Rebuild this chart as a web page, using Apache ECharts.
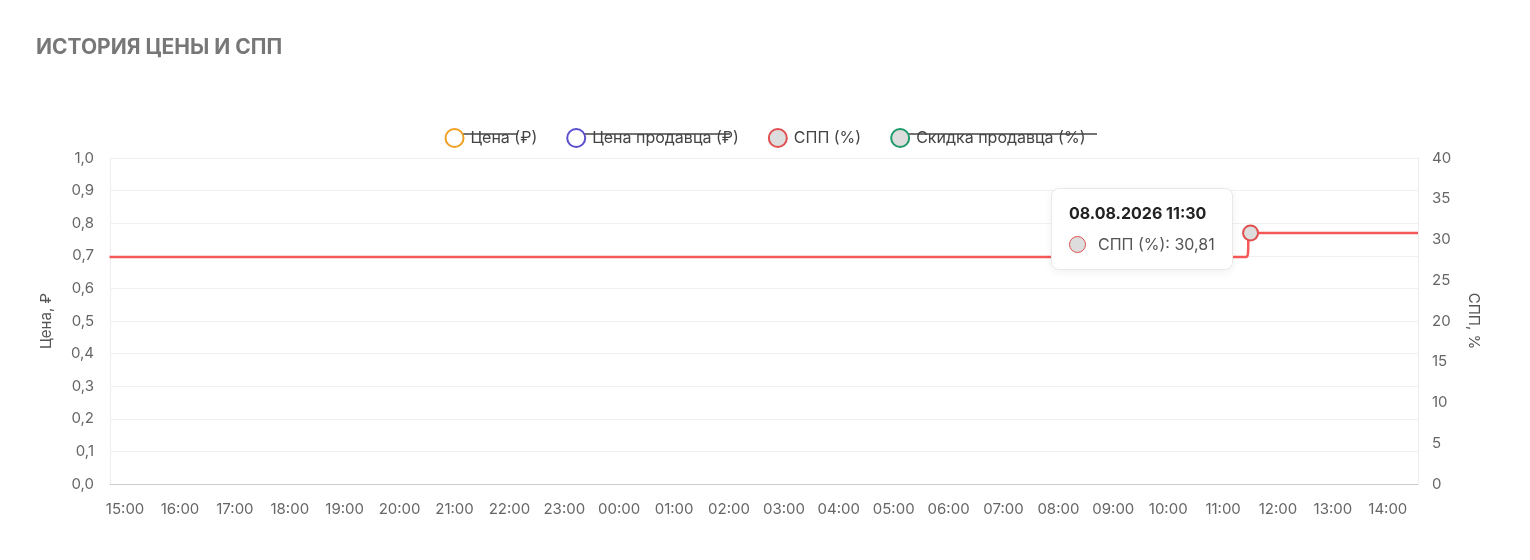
<!DOCTYPE html>
<html><head><meta charset="utf-8">
<script src="https://cdn.jsdelivr.net/npm/echarts@6/dist/echarts.min.js"></script>
<style>html,body{margin:0;padding:0;background:#fff}#c{width:1530px;height:560px}</style>
</head><body><div id="c"></div>
<script>
const titleText = 'ИСТОРИЯ ЦЕНЫ И СПП';
const seriesNames = ['Цена (₽)', 'Цена продавца (₽)', 'СПП (%)', 'Скидка продавца (%)'];
const seriesColors = ['#f0a020', '#5b4fcf', '#e05050', '#1f9a6a'];
const sppTimes = ['2026-08-07 14:43','2026-08-07 18:00','2026-08-07 22:00','2026-08-08 02:00','2026-08-08 06:00','2026-08-08 10:00','2026-08-08 11:25','2026-08-08 11:30','2026-08-08 13:00','2026-08-08 14:33'];
const sppValues = [27.85,27.85,27.85,27.85,27.85,27.85,27.85,30.81,30.81,30.81];
const xMin = '2026-08-07 14:43:30', xMax = '2026-08-08 14:33:00';
const fmtC = v => v.toFixed(1).replace('.', ',');
const chart = echarts.init(document.getElementById('c'));
const pad = n => String(n).padStart(2,'0');
chart.setOption({
  animation:false,
  title:{text:titleText,left:31,top:32,textStyle:{fontSize:21,fontWeight:'bold',color:'#777',fontFamily:'Inter'}},
  legend:{top:123,left:'center',itemWidth:18,itemHeight:18,itemGap:29,icon:'circle',
    textStyle:{fontSize:16,color:'#444',fontFamily:'Inter',padding:[0,0,0,2]},data:seriesNames},
  tooltip:{trigger:'item',backgroundColor:'#fff',borderColor:'#e8e8e8',borderWidth:1,padding:[14,17],
    extraCssText:'border-radius:8px;box-shadow:0 2px 8px rgba(0,0,0,0.06);',
    position:(p)=>[1051,188],
    formatter:(p)=>{const d=new Date(p.value[0]);
      return `<div style="font-family:Inter;font-weight:bold;font-size:16px;color:#222;margin-bottom:10px">${pad(d.getDate())}.${pad(d.getMonth()+1)}.${d.getFullYear()} ${pad(d.getHours())}:${pad(d.getMinutes())}</div>`+
      `<div style="font-family:Inter;font-size:16px;color:#555"><span style="display:inline-block;width:15px;height:15px;border-radius:50%;background:#ddd;border:1.5px solid #e05050;vertical-align:-3px;margin-right:12px"></span>СПП (%): ${String(p.value[1]).replace('.',',')}</div>`;}},
  grid:{left:110,right:112,top:158,bottom:76},
  xAxis:{type:'time',min:xMin,max:xMax,minInterval:3600000,maxInterval:3600000,
    axisLine:{lineStyle:{color:'#ccc'}},axisTick:{show:false},splitLine:{show:false},
    axisLabel:{color:'#666',fontSize:15,fontFamily:'Inter',margin:18,hideOverlap:false,
      formatter:v=>{const d=new Date(v);return pad(d.getHours())+':'+pad(d.getMinutes());}}},
  yAxis:[
    {type:'value',min:0,max:1,interval:0.1,name:'Цена, ₽',nameLocation:'middle',nameGap:56,nameRotate:90,
     nameTextStyle:{color:'#555',fontSize:15,fontFamily:'Inter'},
     axisLine:{show:true,lineStyle:{color:'#eee'}},axisLabel:{color:'#666',fontSize:15,fontFamily:'Inter',formatter:fmtC,margin:16},
     splitLine:{lineStyle:{color:'#f0f0f0'}}},
    {type:'value',min:0,max:40,interval:5,name:'СПП, %',nameLocation:'middle',nameGap:48,nameRotate:-90,
     nameTextStyle:{color:'#555',fontSize:15,fontFamily:'Inter'},
     axisLine:{show:true,lineStyle:{color:'#eee'}},axisLabel:{color:'#666',fontSize:15,fontFamily:'Inter',margin:14},
     splitLine:{show:false}}
  ],
  series:[
    {name:seriesNames[0],type:'line',yAxisIndex:0,data:[],itemStyle:{color:'#fff',borderColor:seriesColors[0],borderWidth:3},lineStyle:{color:seriesColors[0]}},
    {name:seriesNames[1],type:'line',yAxisIndex:0,data:[],itemStyle:{color:'#fff',borderColor:seriesColors[1],borderWidth:2.5},lineStyle:{color:seriesColors[1]}},
    {name:seriesNames[2],type:'line',yAxisIndex:1,smooth:0.5,showSymbol:false,symbolSize:15,
     data:sppTimes.map((t,i)=>[t,sppValues[i]]),
     itemStyle:{color:'#ddd',borderColor:seriesColors[2],borderWidth:2},lineStyle:{color:seriesColors[2],width:2.5},
     emphasis:{scale:false,itemStyle:{color:'#ddd',borderColor:seriesColors[2]}}},
    {name:seriesNames[3],type:'line',yAxisIndex:1,data:[],itemStyle:{color:'#ddd',borderColor:seriesColors[3],borderWidth:2.5},lineStyle:{color:seriesColors[3]}}
  ]
});
chart.setOption({graphic:[
  {type:'line',shape:{x1:449,y1:134,x2:518,y2:134},style:{stroke:'#444',lineWidth:1.3}},
  {type:'line',shape:{x1:570,y1:134,x2:730,y2:134},style:{stroke:'#444',lineWidth:1.3}},
  {type:'line',shape:{x1:907,y1:134,x2:1097,y2:134},style:{stroke:'#444',lineWidth:1.3}}
]});
chart.dispatchAction({type:'highlight',seriesIndex:2,dataIndex:7});
chart.dispatchAction({type:'showTip',seriesIndex:2,dataIndex:7});
</script></body></html>
